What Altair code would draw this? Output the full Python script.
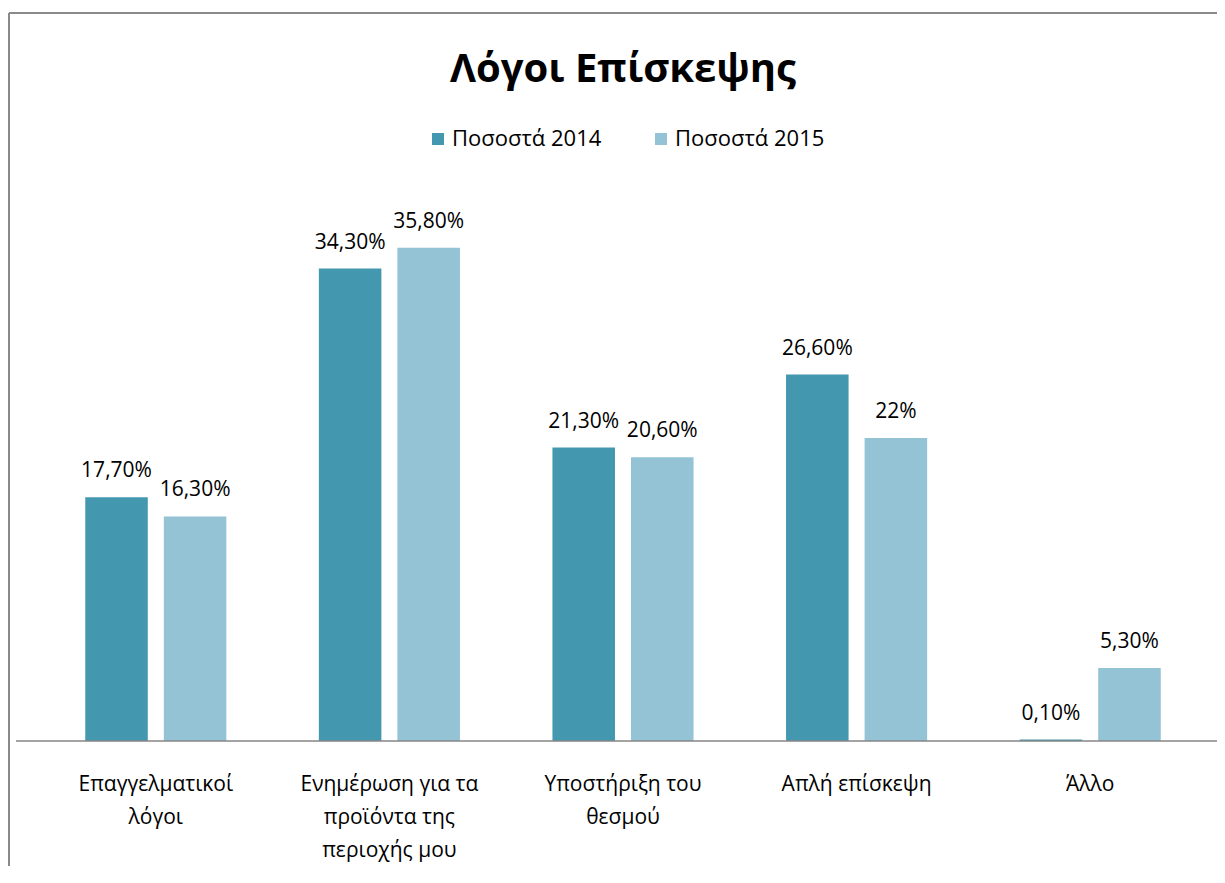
import altair as alt
import pandas as pd

categories = ["Επαγγελματικοί\nλόγοι", "Ενημέρωση για τα\nπροϊόντα της\nπεριοχής μου",
              "Υποστήριξη του\nθεσμού", "Απλή επίσκεψη", "Άλλο"]
series = ["Ποσοστά 2014", "Ποσοστά 2015"]
values_2014 = [17.7, 34.3, 21.3, 26.6, 0.1]
values_2015 = [16.3, 35.8, 20.6, 22.0, 5.3]
labels_2014 = ["17,70%", "34,30%", "21,30%", "26,60%", "0,10%"]
labels_2015 = ["16,30%", "35,80%", "20,60%", "22%", "5,30%"]
colors = ["#4398B0", "#93C3D5"]

rows = []
for c, v, l in zip(categories, values_2014, labels_2014):
    rows.append({"category": c, "series": series[0], "value": v, "label": l})
for c, v, l in zip(categories, values_2015, labels_2015):
    rows.append({"category": c, "series": series[1], "value": v, "label": l})
df = pd.DataFrame(rows)

W, H = 1168, 551
FONT = "Open Sans"

x = alt.X("category:N", sort=categories, title=None,
          scale=alt.Scale(paddingInner=0.396, paddingOuter=0.198),
          axis=alt.Axis(domain=False, ticks=False, labelAngle=0, labelFontSize=21,
                        labelFont=FONT, labelColor="#000000", labelPadding=32,
                        labelLineHeight=33, labelBaseline="top",
                        labelExpr="split(datum.label, '\\n')"))
xo = alt.XOffset("series:N", sort=series, scale=alt.Scale(paddingInner=0.204))
y = alt.Y("value:Q", scale=alt.Scale(domain=[0, 40]), axis=None)

base = alt.Chart(df)

bars = base.mark_bar().encode(
    x=x, xOffset=xo, y=y,
    color=alt.Color("series:N", sort=series,
                    scale=alt.Scale(domain=series, range=colors),
                    legend=alt.Legend(title=None, orient="none", direction="horizontal",
                                      legendX=388, legendY=-62, symbolType="square",
                                      symbolSize=144, symbolStrokeWidth=0,
                                      labelFont=FONT, labelFontSize=22,
                                      labelColor="#000000", labelOffset=3,
                                      columnPadding=48)),
)

texts = base.mark_text(baseline="alphabetic", dy=-20, fontSize=21, font=FONT,
                       color="#000000").encode(
    x=x, xOffset=xo, y=y, text="label:N")

baseline = alt.Chart(pd.DataFrame({"v": [0]})).mark_rule(
    color="#868686", strokeWidth=1.5).encode(
    y=alt.Y("v:Q", scale=alt.Scale(domain=[0, 40]), axis=None),
    x=alt.value(-23), x2=alt.value(W + 12))

border_top = alt.Chart(pd.DataFrame({"v": [0]})).mark_rule(
    color="#8a8a8a", strokeWidth=2).encode(
    x=alt.value(-30), x2=alt.value(W + 12), y=alt.value(-177))
border_left = alt.Chart(pd.DataFrame({"v": [0]})).mark_rule(
    color="#8a8a8a", strokeWidth=2).encode(
    x=alt.value(-30), y=alt.value(-177), y2=alt.value(H + 130))

chart = alt.layer(bars, texts, baseline, border_top, border_left).properties(
    width=W, height=H,
    title=alt.TitleParams("Λόγοι Επίσκεψης", font=FONT, fontSize=40, fontWeight="bold",
                          color="#000000", anchor="middle", baseline="alphabetic",
                          offset=-110),
    padding={"left": 31, "top": 182, "right": 10, "bottom": 125},
    autosize=alt.AutoSizeParams(type="none"),
).configure_view(stroke=None)

chart.save("out.html", embed_options={"renderer": "svg", "actions": False})
